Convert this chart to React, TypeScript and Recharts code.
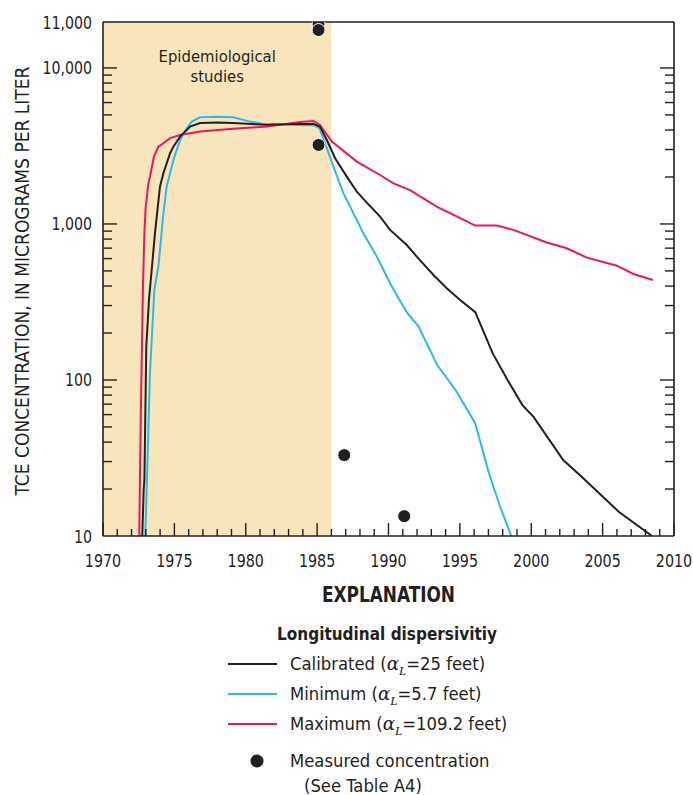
import React from "react";
import {
  ComposedChart,
  Line,
  Scatter,
  XAxis,
  YAxis,
  ReferenceArea,
} from "recharts";

const FONT = '"DejaVu Sans Condensed", "Liberation Sans", sans-serif';
const INK = "#231f20";
const SHADE = "#f8e5bb";
const BLACK = "#231f20";
const CYAN = "#2eb8ea";
const CRIMSON = "#e8185a";

// axis setup
const Y_BOTTOM = 10;
const Y_TOP = 19700; // top of the frame, labelled 11,000 in the figure
const yearTicks = Array.from({ length: 41 }, (_, i) => 1970 + i);
const yMajorTicks = [10, 100, 1000, 10000, Y_TOP];
const yMajorLabels = ["10", "100", "1,000", "10,000", "11,000"];
const yMinorTicks = [
  20, 30, 40, 50, 60, 70, 80, 90,
  200, 300, 400, 500, 600, 700, 800, 900,
  2000, 3000, 4000, 5000, 6000, 7000, 8000, 9000,
];
const epiStart = 1970;
const epiEnd = 1986;

// calibrated (alpha L = 25 feet)
const calibratedYears = [
  1972.75, 1972.85, 1972.9, 1973.03, 1973.22, 1973.41, 1973.64, 1973.99,
  1974.23, 1974.7, 1974.93, 1975.4, 1976.1, 1976.8, 1978.0, 1979.1, 1981.5,
  1983.8, 1984.74, 1985.2, 1985.68, 1986.26, 1987.08, 1987.78, 1988.48,
  1989.41, 1990.11, 1991.28, 1991.98, 1993.15, 1994.08, 1995.02, 1996.08,
  1997.3, 1998.34, 1999.38, 2000.16, 2002.24, 2003.53, 2006.13, 2008.46,
];
const calibratedValues = [
  10, 19.7, 22.9, 162, 326, 507, 871, 1733,
  2114, 2840, 3130, 3630, 4210, 4430, 4470, 4430, 4320,
  4380, 4380, 4210, 3450, 2640, 2010, 1610, 1370,
  1115, 916, 733, 618, 471, 387, 326, 272,
  148, 100, 69, 58, 30.7, 24, 14.3, 10,
];

// minimum (alpha L = 5.7 feet)
const minimumYears = [
  1972.96, 1973.08, 1973.29, 1973.6, 1973.88, 1974.23, 1974.46, 1974.93,
  1975.4, 1975.87, 1976.22, 1976.8, 1978.0, 1979.13, 1980.3, 1981.47, 1982.63,
  1984.0, 1984.74, 1985.16, 1985.56, 1986.14, 1986.84, 1987.78, 1988.24,
  1989.18, 1990.11, 1990.7, 1991.33, 1992.11, 1993.41, 1994.71, 1996.08,
  1997.04, 1997.82, 1998.6,
];
const minimumValues = [
  10, 22.9, 111, 380, 532, 1170, 1733, 2570,
  3450, 4100, 4530, 4830, 4870, 4830, 4530, 4320, 4380,
  4300, 4310, 4100, 3290, 2330, 1575, 1060, 871,
  618, 417, 334, 268, 220, 125, 86, 52.7,
  25.2, 15.4, 10,
];

// maximum (alpha L = 109.2 feet)
const maximumYears = [
  1972.54, 1972.65, 1972.8, 1972.9, 1972.99, 1973.06, 1973.17, 1973.29,
  1973.57, 1973.88, 1974.23, 1974.7, 1975.4, 1976.8, 1979.1, 1981.5, 1983.8,
  1984.74, 1985.2, 1986.03, 1987.78, 1989.41, 1990.35, 1991.51, 1993.38,
  1995.02, 1996.07, 1997.59, 1998.75, 2001.09, 2002.49, 2003.9, 2006.0,
  2007.16, 2008.52,
];
const maximumValues = [
  10, 61, 400, 880, 1290, 1450, 1800, 2000,
  2700, 3130, 3290, 3550, 3720, 3910, 4070, 4210, 4510,
  4570, 4310, 3370, 2510, 2060, 1820, 1650, 1290,
  1090, 977, 977, 917, 760, 699, 608, 540,
  478, 437,
];

// measured concentration (Table A4)
const measuredYears = [1985.1, 1985.1, 1985.1, 1986.9, 1991.1];
const measuredValues = [19100, 17500, 3210, 33, 13.4];

const zip = (xs: number[], ys: number[]) =>
  xs.map((year, i) => ({ year, value: ys[i] }));

const calibratedData = zip(calibratedYears, calibratedValues);
const minimumData = zip(minimumYears, minimumValues);
const maximumData = zip(maximumYears, maximumValues);
const measuredData = zip(measuredYears, measuredValues);

const allYTicks = [...yMajorTicks, ...yMinorTicks].sort((a, b) => a - b);

// text squeezed horizontally, to get closer to the condensed face of the figure
function NarrowText(props: any) {
  const { x, y, sx, anchor, size, children } = props;
  return (
    <text
      transform={`translate(${x} ${y}) scale(${sx} 1)`}
      textAnchor={anchor}
      fontFamily={FONT}
      fontSize={size}
      fill={INK}
    >
      {children}
    </text>
  );
}

function XTick(props: any) {
  const { x, y, payload, top } = props;
  const major = payload.value % 5 === 0;
  const len = major ? 13 : 7;
  return (
    <g>
      <line
        x1={x}
        x2={x}
        y1={y}
        y2={top ? y + len : y - len}
        stroke={INK}
        strokeWidth={1.4}
      />
      {!top && major && (
        <NarrowText x={x} y={y + 31} sx={0.86} anchor="middle" size={18.5}>
          {payload.value}
        </NarrowText>
      )}
    </g>
  );
}

function YTick(props: any) {
  const { x, y, payload, right } = props;
  const v = payload.value;
  const idx = yMajorTicks.indexOf(v);
  const len = idx >= 0 ? 14 : 9;
  const dir = right ? -1 : 1;
  return (
    <g>
      {v !== Y_TOP && v !== Y_BOTTOM && (
        <line
          x1={x}
          x2={x + dir * len}
          y1={y}
          y2={y}
          stroke={INK}
          strokeWidth={1.4}
        />
      )}
      {!right && idx >= 0 && (
        <NarrowText x={x - 11} y={y + 6.5} sx={0.9} anchor="end" size={17.5}>
          {yMajorLabels[idx]}
        </NarrowText>
      )}
    </g>
  );
}

function EpiLabel(props: any) {
  const { viewBox } = props;
  const cx = viewBox.x + viewBox.width / 2;
  return (
    <g fontFamily={FONT} fontSize={16.5} fill={INK} textAnchor="middle">
      <text x={cx} y={viewBox.y + 40}>
        Epidemiological
      </text>
      <text x={cx} y={viewBox.y + 60}>
        studies
      </text>
    </g>
  );
}

function Dot(props: any) {
  const { cx, cy } = props;
  return <circle cx={cx} cy={cy} r={6.5} fill={INK} stroke="#fff" strokeWidth={1} />;
}

function Alpha() {
  return (
    <>
      <tspan fontFamily="'DejaVu Serif', serif" fontStyle="italic">
        α
      </tspan>
      <tspan
        fontFamily="'Liberation Serif', serif"
        fontStyle="italic"
        fontSize={13}
        dy={5}
      >
        L
      </tspan>
      <tspan dy={-5}>=</tspan>
    </>
  );
}

function Explanation() {
  const rows = [
    { color: BLACK, label: "Calibrated (", rest: "25 feet)" },
    { color: CYAN, label: "Minimum (", rest: "5.7 feet)" },
    { color: CRIMSON, label: "Maximum (", rest: "109.2 feet)" },
  ];
  return (
    <svg
      width={693}
      height={225}
      style={{ position: "absolute", left: 0, top: 570 }}
      fontFamily={FONT}
      fill={INK}
    >
      <text
        x={322}
        y={32}
        fontSize={21}
        fontWeight="bold"
        textLength={133}
        lengthAdjust="spacingAndGlyphs"
      >
        EXPLANATION
      </text>
      <text
        x={277}
        y={70}
        fontSize={18.5}
        fontWeight="bold"
        textLength={220}
        lengthAdjust="spacingAndGlyphs"
      >
        Longitudinal dispersivitiy
      </text>
      {rows.map((r, i) => (
        <g key={r.label}>
          <line
            x1={228}
            x2={277}
            y1={94 + i * 30}
            y2={94 + i * 30}
            stroke={r.color}
            strokeWidth={2}
          />
          <text x={290} y={100 + i * 30} fontSize={18.3}>
            {r.label}
            <Alpha />
            {r.rest}
          </text>
        </g>
      ))}
      <circle cx={257} cy={191} r={6.5} fill={INK} />
      <text x={290} y={197} fontSize={18.3}>
        Measured concentration
      </text>
      <text x={304} y={222} fontSize={18.3}>
        (See Table A4)
      </text>
    </svg>
  );
}

export default function App() {
  return (
    <div
      style={{
        position: "absolute",
        left: 0,
        top: 0,
        width: 693,
        height: 795,
        background: "#fff",
      }}
    >
      <ComposedChart
        width={693}
        height={580}
        margin={{ top: 21, right: 18, bottom: 4, left: 43 }}
      >
        <XAxis
          dataKey="year"
          type="number"
          domain={[1970, 2010]}
          ticks={yearTicks}
          interval={0}
          allowDataOverflow
          tickLine={false}
          tickSize={0}
          tickMargin={0}
          tick={<XTick />}
          axisLine={{ stroke: INK, strokeWidth: 1.6 }}
          height={40}
        />
        <XAxis
          xAxisId="top"
          orientation="top"
          type="number"
          domain={[1970, 2010]}
          ticks={yearTicks}
          interval={0}
          allowDataOverflow
          tickLine={false}
          tickSize={0}
          tickMargin={0}
          tick={<XTick top />}
          axisLine={{ stroke: INK, strokeWidth: 1.6 }}
          height={1}
        />
        <YAxis
          type="number"
          scale="log"
          domain={[Y_BOTTOM, Y_TOP]}
          ticks={allYTicks}
          interval={0}
          allowDataOverflow
          tickLine={false}
          tickSize={0}
          tickMargin={0}
          tick={<YTick />}
          axisLine={{ stroke: INK, strokeWidth: 1.6 }}
          width={60}
          label={() => (
            <text
              x={22}
              y={281}
              transform="rotate(-90 22 281)"
              textAnchor="middle"
              dy="0.35em"
              fontFamily={FONT}
              fontSize={19}
              fill={INK}
            >
              TCE CONCENTRATION, IN MICROGRAMS PER LITER
            </text>
          )}
        />
        <YAxis
          yAxisId="right"
          orientation="right"
          type="number"
          scale="log"
          domain={[Y_BOTTOM, Y_TOP]}
          ticks={allYTicks}
          interval={0}
          allowDataOverflow
          tickLine={false}
          tickSize={0}
          tickMargin={0}
          tick={<YTick right />}
          axisLine={{ stroke: INK, strokeWidth: 1.6 }}
          width={1}
        />
        <ReferenceArea
          x1={epiStart}
          x2={epiEnd}
          y1={Y_BOTTOM}
          y2={Y_TOP}
          fill={SHADE}
          fillOpacity={1}
          stroke="none"
          label={<EpiLabel />}
        />
        <Line
          data={maximumData}
          dataKey="value"
          stroke={CRIMSON}
          strokeWidth={2}
          dot={false}
          isAnimationActive={false}
        />
        <Line
          data={minimumData}
          dataKey="value"
          stroke={CYAN}
          strokeWidth={2}
          dot={false}
          isAnimationActive={false}
        />
        <Line
          data={calibratedData}
          dataKey="value"
          stroke={BLACK}
          strokeWidth={2}
          dot={false}
          isAnimationActive={false}
        />
        <Scatter
          data={measuredData}
          dataKey="value"
          shape={<Dot />}
          isAnimationActive={false}
        />
      </ComposedChart>
      <Explanation />
    </div>
  );
}
